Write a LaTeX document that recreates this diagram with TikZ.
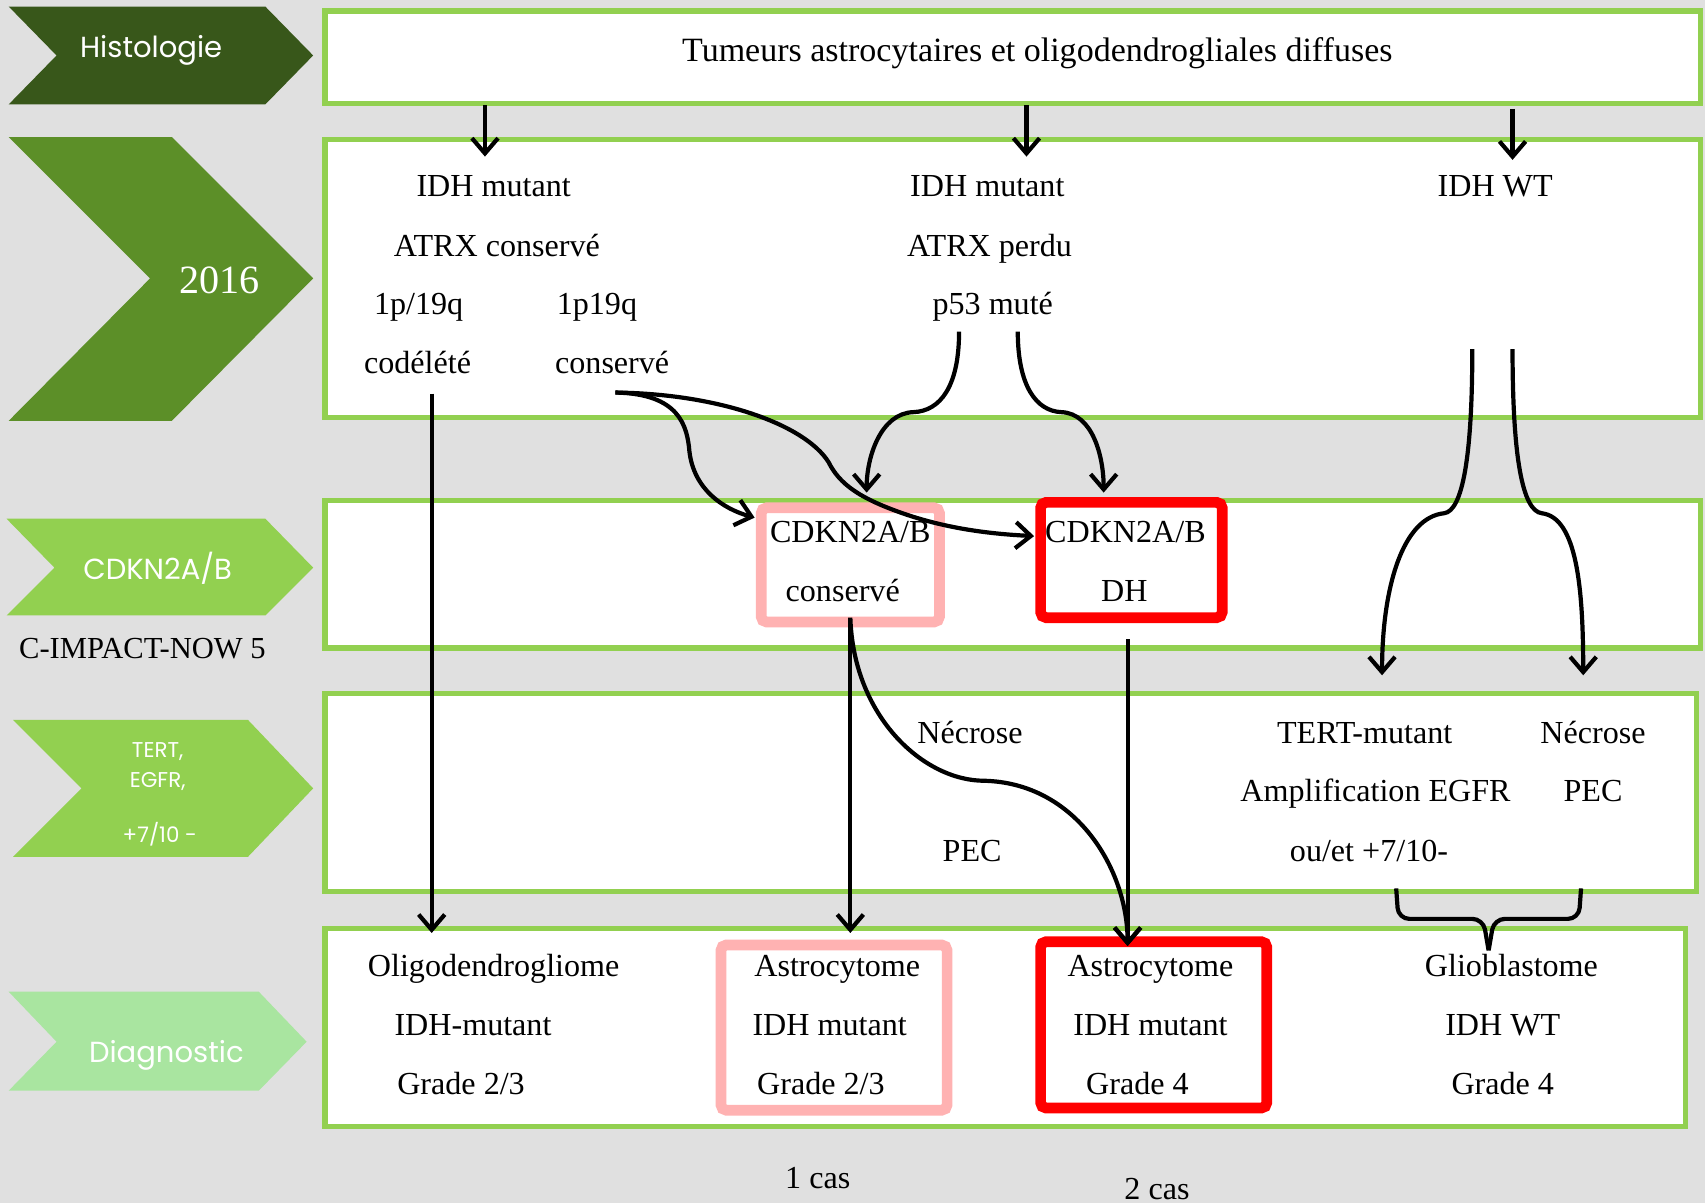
\documentclass[tikz,border=0pt]{standalone}
\usepackage{fontspec}
\setmainfont{Liberation Serif}
\newfontfamily\chevfont{Poppins}
\usetikzlibrary{arrows.meta}

\definecolor{bggray}{RGB}{224,224,224}
\definecolor{histgreen}{RGB}{56,87,26}
\definecolor{yeargreen}{RGB}{92,143,40}
\definecolor{panelgreen}{RGB}{146,208,80}
\definecolor{diaggreen}{RGB}{169,229,160}
\definecolor{softred}{RGB}{255,178,178}

\begin{document}
\begin{tikzpicture}[x=0.1mm,y=-0.1mm,
	panel/.style={draw=panelgreen,line width=1.4pt,fill=white},
	txt/.style={font=\fontsize{8.4}{10}\selectfont,inner sep=0pt,text height=0.7em,text depth=0.22em,yshift=-0.2mm},
	chev/.style={font=\chevfont\fontsize{7.6}{9}\selectfont,text=white,inner sep=0pt},
	arr/.style={-{Straight Barb[length=1.4mm,width=2.4mm]},line width=1.1pt},
	casebox/.style={line width=2.8pt,rounded corners=0.5mm,fill=white}]
	% background
	\fill[bggray] (0,0) rectangle (1568,1106);
	\useasboundingbox (0,0) rectangle (1568,1106);

	% chevrons on the left
	\fill[histgreen] (8,6) -- (244,6) -- (288,51) -- (244,96) -- (8,96) -- (52,51) -- cycle;
	\fill[yeargreen] (8,126) -- (158,126) -- (288,256) -- (158,387) -- (8,387) -- (138,256) -- cycle;
	\fill[panelgreen] (6,477) -- (244,477) -- (288,522) -- (244,566) -- (6,566) -- (50,522) -- cycle;
	\fill[panelgreen] (12,662) -- (228,662) -- (288,725) -- (228,788) -- (12,788) -- (75,725) -- cycle;
	\fill[diaggreen] (8,912) -- (238,912) -- (282,958) -- (238,1003) -- (8,1003) -- (52,958) -- cycle;
	\node[chev] (histo) at (139,46) {Histologie};
	\node[chev,font=\fontsize{10.5}{12}\selectfont] (year) at (202,258) {2016};
	\node[chev] (cdkn) at (145,523) {CDKN2A/B};
	\node[txt,font=\fontsize{8}{10}\selectfont] (impact) at (131,595) {C-IMPACT-NOW 5};
	\node[chev,font=\chevfont\fontsize{5.6}{7}\selectfont] (tert) at (145,691) {TERT,};
	\node[chev,font=\chevfont\fontsize{5.6}{7}\selectfont] (egfr) at (145,719) {EGFR,};
	\node[chev,font=\chevfont\fontsize{5.6}{7}\selectfont] (chrom) at (147,767) {+7/10 -};
	\node[chev] (diag) at (153,971) {Diagnostic};

	% panels
	\draw[panel] (299,10) rectangle (1564,95);
	\draw[panel] (299,128) rectangle (1564,384);
	\draw[panel] (299,460) rectangle (1564,596);
	\draw[panel] (299,638) rectangle (1560,820);
	\draw[panel] (299,854) rectangle (1550,1036);

	% framed cases
	\draw[casebox,draw=softred] (700,467) rectangle (864,572);
	\draw[casebox,draw=red] (957,462) rectangle (1124,568);
	\draw[casebox,draw=softred] (663,869) rectangle (871,1021);
	\draw[casebox,draw=red] (957,866) rectangle (1165,1019);

	% texts
	\node[txt,font=\fontsize{8.9}{10}\selectfont] (tumeurs) at (954,46) {Tumeurs astrocytaires et oligodendrogliales diffuses};
	\node[txt] (idhA) at (454,170) {IDH mutant};
	\node[txt] (atrxA) at (457,225) {ATRX conservé};
	\node[txt] (codelA) at (385,279) {1p/19q};
	\node[txt] (codelB) at (384,333) {codélété};
	\node[txt] (consA) at (549,279) {1p19q};
	\node[txt] (consB) at (563,333) {conservé};
	\node[txt] (idhB) at (908,170) {IDH mutant};
	\node[txt] (atrxB) at (910,225) {ATRX perdu};
	\node[txt] (ptf) at (913,279) {p53 muté};
	\node[txt] (idhwt) at (1375,170) {IDH WT};

	\node[txt] (cdkA) at (782,488) {CDKN2A/B};
	\node[txt] (cdkB) at (775,543) {conservé};
	\node[txt] (cdkC) at (1035,488) {CDKN2A/B};
	\node[txt] (cdkD) at (1034,543) {DH};

	\node[txt] (necA) at (892,673) {Nécrose};
	\node[txt] (pecA) at (894,782) {PEC};
	\node[txt] (tertm) at (1255,673) {TERT-mutant};
	\node[txt] (ampl) at (1265,727) {Amplification EGFR};
	\node[txt] (ouet) at (1259,782) {ou/et +7/10-};
	\node[txt] (necB) at (1465,673) {Nécrose};
	\node[txt] (pecB) at (1465,727) {PEC};

	\node[txt] (oligo) at (454,888) {Oligodendrogliome};
	\node[txt] (oligoB) at (435,942) {IDH-mutant};
	\node[txt] (oligoC) at (424,996) {Grade 2/3};
	\node[txt] (astroA) at (770,888) {Astrocytome};
	\node[txt] (astroB) at (763,942) {IDH mutant};
	\node[txt] (astroC) at (755,996) {Grade 2/3};
	\node[txt] (astroD) at (1058,888) {Astrocytome};
	\node[txt] (astroE) at (1058,942) {IDH mutant};
	\node[txt] (astroF) at (1046,996) {Grade 4};
	\node[txt] (gbmA) at (1390,888) {Glioblastome};
	\node[txt] (gbmB) at (1382,942) {IDH WT};
	\node[txt] (gbmC) at (1382,996) {Grade 4};

	\node[txt] (casA) at (752,1083) {1 cas};
	\node[txt] (casB) at (1064,1093) {2 cas};

	% connector ends
	\coordinate (h1) at (446,97);
	\coordinate (h2) at (944,97);
	\coordinate (h3) at (1391,100);
	\coordinate (m1) at (446,144);
	\coordinate (m2) at (944,144);
	\coordinate (m3) at (1391,147);
	\coordinate (codel) at (397,362);
	\coordinate (cons) at (566,361);
	\coordinate (pA) at (882,305);
	\coordinate (pB) at (936,305);
	\coordinate (wA) at (1354,321);
	\coordinate (wB) at (1391,321);
	\coordinate (cdkIn) at (694,476);
	\coordinate (dhIn) at (951,493);
	\coordinate (cdkTop) at (797,453);
	\coordinate (dhTop) at (1015,453);
	\coordinate (cdkOut) at (782,568);
	\coordinate (dhOut) at (1037,588);
	\coordinate (tertIn) at (1271,621);
	\coordinate (necIn) at (1456,621);
	\coordinate (oligoIn) at (397,858);
	\coordinate (astroIn) at (782,858);
	\coordinate (astroGIn) at (1037,870);
	\coordinate (brL) at (1284,817);
	\coordinate (brR) at (1454,817);
	\coordinate (brM) at (1369,874);

	% connectors
	\draw[arr] (h1) -- (m1);
	\draw[arr] (h2) -- (m2);
	\draw[arr] (h3) -- (m3);
	\draw[arr] (codel) -- (oligoIn);
	\draw[arr] (cons) .. controls (625,362) and (632,392) .. (634,415)
		.. controls (638,450) and (665,468) .. (cdkIn);
	\draw[arr] (cons) .. controls (660,362) and (740,390) .. (762,425)
		.. controls (772,445) and (790,458) .. (830,472)
		.. controls (870,486) and (910,491) .. (dhIn);
	\draw[arr] (pA) .. controls (882,355) and (865,378) .. (840,379)
		.. controls (810,380) and (797,420) .. (cdkTop);
	\draw[arr] (pB) .. controls (936,355) and (953,378) .. (976,379)
		.. controls (1005,380) and (1015,420) .. (dhTop);
	\draw[arr] (wA) .. controls (1354,420) and (1345,470) .. (1328,472)
		.. controls (1290,476) and (1271,540) .. (tertIn);
	\draw[arr] (wB) .. controls (1391,420) and (1400,470) .. (1418,472)
		.. controls (1450,476) and (1456,540) .. (necIn);
	\draw[arr] (cdkOut) -- (astroIn);
	\draw[arr] (cdkOut) .. controls (785,660) and (850,718) .. (905,718)
		.. controls (990,720) and (1037,800) .. (astroGIn);
	\draw[arr] (dhOut) -- (astroGIn);
	% brace
	\draw[line width=1.1pt,rounded corners=1mm] (brL) -- (1286,845) -- (1364,845) -- (brM);
	\draw[line width=1.1pt,rounded corners=1mm] (brR) -- (1452,845) -- (1374,845) -- (brM);
\end{tikzpicture}
\end{document}
